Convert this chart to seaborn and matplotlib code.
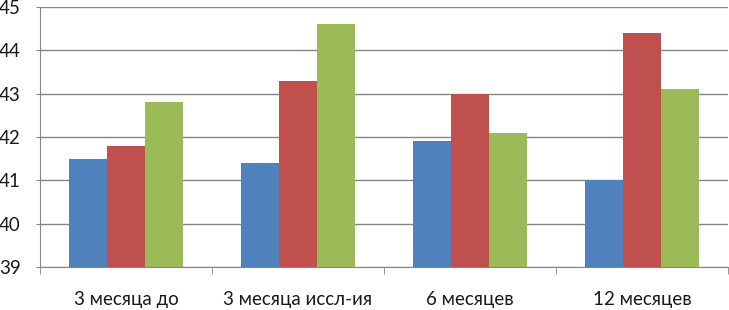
import pandas as pd
import seaborn as sns
import matplotlib.pyplot as plt

# categories and series values
categories = ['3 месяца до', '3 месяца иссл-ия', '6 месяцев', '12 месяцев']
series_names = ['Ряд 1', 'Ряд 2', 'Ряд 3']
series_1 = [41.5, 41.4, 41.9, 41.0]
series_2 = [41.8, 43.3, 43.0, 44.4]
series_3 = [42.8, 44.6, 42.1, 43.1]
colors = ['#4F81BD', '#C0504D', '#9BBB59']

# long-form table for seaborn
rows = []
for name, vals in zip(series_names, [series_1, series_2, series_3]):
    for cat, v in zip(categories, vals):
        rows.append({'Period': cat, 'Series': name, 'Value': v})
df = pd.DataFrame(rows)

sns.set_style('white')
plt.rcParams['font.family'] = ['Lato', 'DejaVu Sans']

fig = plt.figure(figsize=(7.29, 3.10), dpi=100)
ax = fig.add_axes([40 / 729, 1 - 267 / 310, 688 / 729, 260 / 310])

sns.barplot(data=df, x='Period', y='Value', hue='Series', order=categories,
            hue_order=series_names, palette=colors, width=0.66, gap=0,
            saturation=1, legend=False, linewidth=0, ax=ax, zorder=2)

ax.set_ylim(39, 45)
ax.set_yticks(range(39, 46))
ax.set_xlim(-0.5, 3.5)
ax.set_xlabel('')
ax.set_ylabel('')

# gridlines and axis styling
ax.grid(axis='y', color='#868686', linewidth=1, zorder=0)
ax.set_axisbelow(True)
for side in ['top', 'right']:
    ax.spines[side].set_visible(False)
ax.spines['left'].set_color('#868686')
ax.spines['bottom'].set_color('#868686')

ax.tick_params(axis='y', which='major', length=3, color='#868686',
               labelsize=13.5, labelcolor='#1a1a1a', pad=11, direction='out',
               left=True)

# category boundary ticks on x axis
ax.set_xticks([i - 0.5 for i in range(len(categories) + 1)], minor=True)
ax.tick_params(axis='x', which='minor', length=5, color='#868686',
               direction='out', bottom=True)
ax.tick_params(axis='x', which='major', length=0, labelsize=13.5,
               labelcolor='#1a1a1a', pad=17)

fig.savefig('out.png', dpi=100)
